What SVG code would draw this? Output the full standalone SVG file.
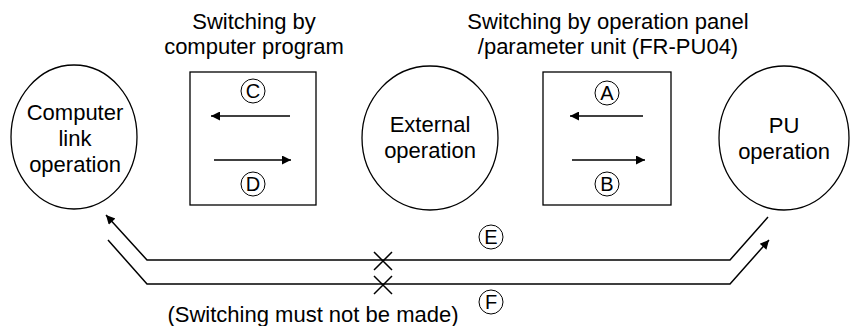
<svg xmlns="http://www.w3.org/2000/svg" width="850" height="326" viewBox="0 0 850 326">
<defs>
<style>
text{font-family:"Liberation Sans",Arial,sans-serif;font-size:22px;fill:#000;text-anchor:middle}
text.s{font-size:20px}
.n{fill:#fff;stroke:#000;stroke-width:1.3}
.l{fill:none;stroke:#000;stroke-width:1.5}
.c{fill:#fff;stroke:#000;stroke-width:1}
</style>
<marker id="ah" viewBox="0 0 10 10" refX="10" refY="5" markerWidth="14" markerHeight="9" markerUnits="userSpaceOnUse" orient="auto">
<path d="M0,0 L10,5 L0,10 z" fill="#000"/>
</marker>
</defs>
<rect width="850" height="326" fill="#fff"/>
<g id="node-computer-link">
<ellipse class="n" cx="74" cy="137" rx="63" ry="72"/>
<text x="75" y="120">Computer</text>
<text x="75" y="146">link</text>
<text x="75" y="172">operation</text>
</g>
<g id="node-switch-computer">
<text x="254" y="29">Switching by</text>
<text x="254" y="54">computer program</text>
<rect class="n" x="190" y="72" width="126" height="133"/>
</g>
<g id="node-external">
<ellipse class="n" cx="430" cy="138" rx="68" ry="72"/>
<text x="430" y="132">External</text>
<text x="430" y="158">operation</text>
</g>
<g id="node-switch-pu">
<text x="608" y="29">Switching by operation panel</text>
<text x="608" y="54">/parameter unit (FR-PU04)</text>
<rect class="n" x="543" y="72" width="128" height="133"/>
</g>
<g id="node-pu">
<ellipse class="n" cx="784" cy="138" rx="65" ry="72"/>
<text x="784" y="133">PU</text>
<text x="784" y="159">operation</text>
</g>
<g id="connectors">
<path class="l" d="M290,116 H211" marker-end="url(#ah)"/>
<path class="l" d="M214,160 H291" marker-end="url(#ah)"/>
<path class="l" d="M643,116 H570" marker-end="url(#ah)"/>
<path class="l" d="M572,160 H645" marker-end="url(#ah)"/>
<path class="l" d="M768,217 L730,260 H147 L106,215" marker-end="url(#ah)"/>
<path class="l" d="M108,240 L147,284 H730 L769,240" marker-end="url(#ah)"/>
<path class="l" d="M374,252 L392,270 M392,252 L374,270 M374,276 L392,294 M392,276 L374,294"/>
</g>
<g id="labels">
<circle class="c" cx="253" cy="91" r="12"/><text class="s" x="253" y="98">C</text>
<circle class="c" cx="253" cy="184" r="12"/><text class="s" x="253" y="191">D</text>
<circle class="c" cx="607" cy="93" r="12"/><text class="s" x="607" y="100">A</text>
<circle class="c" cx="607" cy="184" r="12"/><text class="s" x="607" y="191">B</text>
<circle class="c" cx="491" cy="237" r="12"/><text class="s" x="491" y="244">E</text>
<circle class="c" cx="491" cy="302" r="12"/><text class="s" x="491" y="309">F</text>
<text x="313" y="322">(Switching must not be made)</text>
</g>
</svg>
